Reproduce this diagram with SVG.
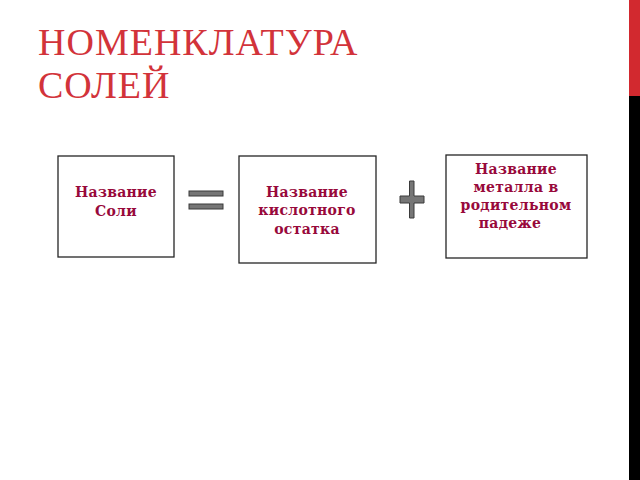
<svg xmlns="http://www.w3.org/2000/svg" width="640" height="480" viewBox="0 0 640 480">
<style>
.box{fill:#fff;stroke:#262626;stroke-width:1.3}
.t{font-family:"DejaVu Serif","Liberation Serif",serif;font-weight:bold;font-size:14px;fill:#98093b;text-anchor:middle;letter-spacing:0.3px}
.op{fill:#767676;stroke:#3a3a3a;stroke-width:1}
.title{font-family:"Liberation Serif","DejaVu Serif",serif;font-size:38px;fill:#d2333a;letter-spacing:1px}
</style>
<rect width="640" height="480" fill="#fff"/>
<rect x="629" y="0" width="11" height="96" fill="#d2292f"/>
<rect x="629" y="96" width="11" height="384" fill="#000"/>
<text class="title" x="38" y="55">НОМЕНКЛАТУРА</text>
<text class="title" x="38" y="98">СОЛЕЙ</text>
<g id="salt"><rect class="box" x="58" y="156" width="116" height="101"/>
<text class="t" x="116" y="197">Название</text><text class="t" x="116" y="216">Соли</text></g>
<g id="acid"><rect class="box" x="239" y="156" width="137" height="107"/>
<text class="t" x="307" y="197">Название</text><text class="t" x="307" y="215">кислотного</text><text class="t" x="307" y="234">остатка</text></g>
<g id="metal"><rect class="box" x="446" y="155" width="141" height="103"/>
<text class="t" x="516" y="174">Название</text><text class="t" x="516" y="192">металла в</text><text class="t" x="516" y="210">родительном</text><text class="t" x="510" y="228">падеже</text></g>
<g id="connectors">
<rect class="op" x="189" y="191" width="34" height="5"/>
<rect class="op" x="189" y="204" width="34" height="5"/>
<path class="op" d="M409.5 181h4.5v15h10v7h-10v15h-4.5v-15h-9.5v-7h9.5z"/>
</g>
</svg>
